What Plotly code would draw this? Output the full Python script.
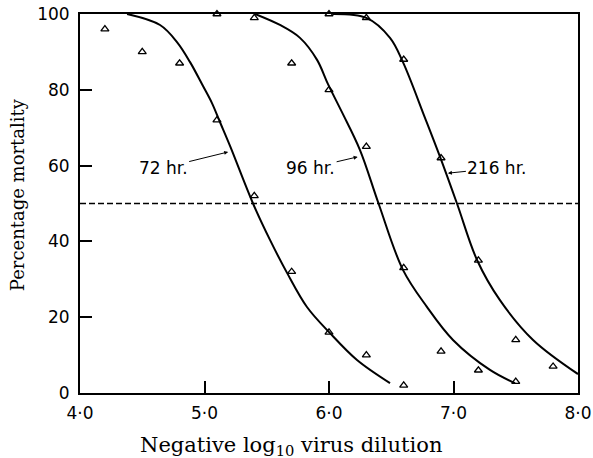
import plotly.graph_objects as go

# Observed mortality at each dilution
dilution_72 = [4.2, 4.5, 4.8, 5.1, 5.4, 5.7, 6.0, 6.3, 6.6]
mortality_72 = [96, 90, 87, 72, 52, 32, 16, 10, 2]
dilution_96 = [5.1, 5.4, 5.7, 6.0, 6.3, 6.6, 6.9, 7.2, 7.5]
mortality_96 = [100, 99, 87, 80, 65, 33, 11, 6, 3]
dilution_216 = [6.0, 6.3, 6.6, 6.9, 7.2, 7.5, 7.8]
mortality_216 = [100, 99, 88, 62, 35, 14, 7]

# Fitted response curves
curve_x_72 = [4.378, 4.643, 4.779, 4.884, 4.988, 5.060, 5.124, 5.205, 5.390, 5.526, 5.663, 5.823, 6.008, 6.225, 6.490]
curve_y_72 = [100, 97.1, 92.6, 87.3, 81.0, 76.5, 71.5, 65.2, 50.0, 40.4, 31.7, 22.7, 15.8, 8.7, 2.6]
curve_x_96 = [5.406, 5.606, 5.767, 5.904, 5.992, 6.104, 6.249, 6.398, 6.594, 6.785, 6.996, 7.293, 7.494]
curve_y_96 = [100, 97.1, 93.7, 87.9, 81.5, 74.1, 64.1, 50.0, 32.5, 22.8, 14.0, 6.1, 2.6]
curve_x_216 = [6.032, 6.305, 6.490, 6.594, 6.771, 6.892, 7.028, 7.189, 7.373, 7.639, 8.0]
curve_y_216 = [100, 98.9, 93.7, 87.3, 72.6, 62.3, 50.0, 35.1, 24.5, 14.0, 5.0]

ld50_level = 50
x_ticks = [4, 5, 6, 7, 8]
x_tick_text = ["4·0", "5·0", "6·0", "7·0", "8·0"]
y_ticks = [0, 20, 40, 60, 80, 100]

SANS = "DejaVu Sans"
SERIF = "DejaVu Serif"

fig = go.Figure()

for cx, cy in [(curve_x_72, curve_y_72), (curve_x_96, curve_y_96), (curve_x_216, curve_y_216)]:
    fig.add_trace(go.Scatter(x=cx, y=cy, mode="lines",
                             line=dict(color="black", width=2, shape="spline", smoothing=1),
                             hoverinfo="skip", showlegend=False))

for dx, my in [(dilution_72, mortality_72), (dilution_96, mortality_96), (dilution_216, mortality_216)]:
    fig.add_trace(go.Scatter(x=dx, y=my, mode="markers",
                             marker=dict(symbol="triangle-up-open", size=7, color="black",
                                         line=dict(width=1.3, color="black")),
                             cliponaxis=False, showlegend=False))

# 50 % mortality reference line
fig.add_trace(go.Scatter(x=[x_ticks[0], x_ticks[-1]], y=[ld50_level, ld50_level], mode="lines",
                         line=dict(color="black", width=1.6, dash="6px,3px"),
                         hoverinfo="skip", showlegend=False))

labels = [
    ("72 hr.", 5.19, 63.6, -65, 16),
    ("96 hr.", 6.23, 62.3, -47, 11),
    ("216 hr.", 6.955, 58, 49, -5),
]
for text, x, y, ax, ay in labels:
    fig.add_annotation(x=x, y=y, text=text, ax=ax, ay=ay, showarrow=True,
                       arrowhead=2, arrowsize=0.8, arrowwidth=1, arrowcolor="black",
                       standoff=0, startstandoff=0,
                       font=dict(family=SANS, size=17, color="black"))

# Axis titles
fig.add_annotation(text="Percentage mortality", xref="paper", yref="paper",
                   x=-0.1265, y=0.522, xanchor="center", yanchor="middle",
                   textangle=-90, showarrow=False,
                   font=dict(family=SERIF, size=18, color="black"))
fig.add_annotation(text="Negative log<sub>10</sub> virus dilution", xref="paper", yref="paper",
                   x=0.4237, y=-0.14, xanchor="center", yanchor="middle", showarrow=False,
                   font=dict(family=SERIF, size=21, color="black"))

axis_common = dict(showline=True, linecolor="black", linewidth=2, mirror=True,
                   ticks="inside", ticklen=12, tickwidth=1.5, tickcolor="black",
                   showgrid=False, zeroline=False, automargin=False,
                   tickfont=dict(family=SANS, size=17, color="black"))

fig.update_layout(
    width=593, height=458,
    margin=dict(l=80, r=15, t=14, b=65),
    paper_bgcolor="white", plot_bgcolor="white",
    xaxis=dict(range=[4, 8], tickvals=x_ticks, ticktext=x_tick_text,
               ticklabelstandoff=4, **axis_common),
    yaxis=dict(range=[0, 100], tickvals=y_ticks, ticklabelstandoff=5, **axis_common),
)

fig.write_html("out.html")
